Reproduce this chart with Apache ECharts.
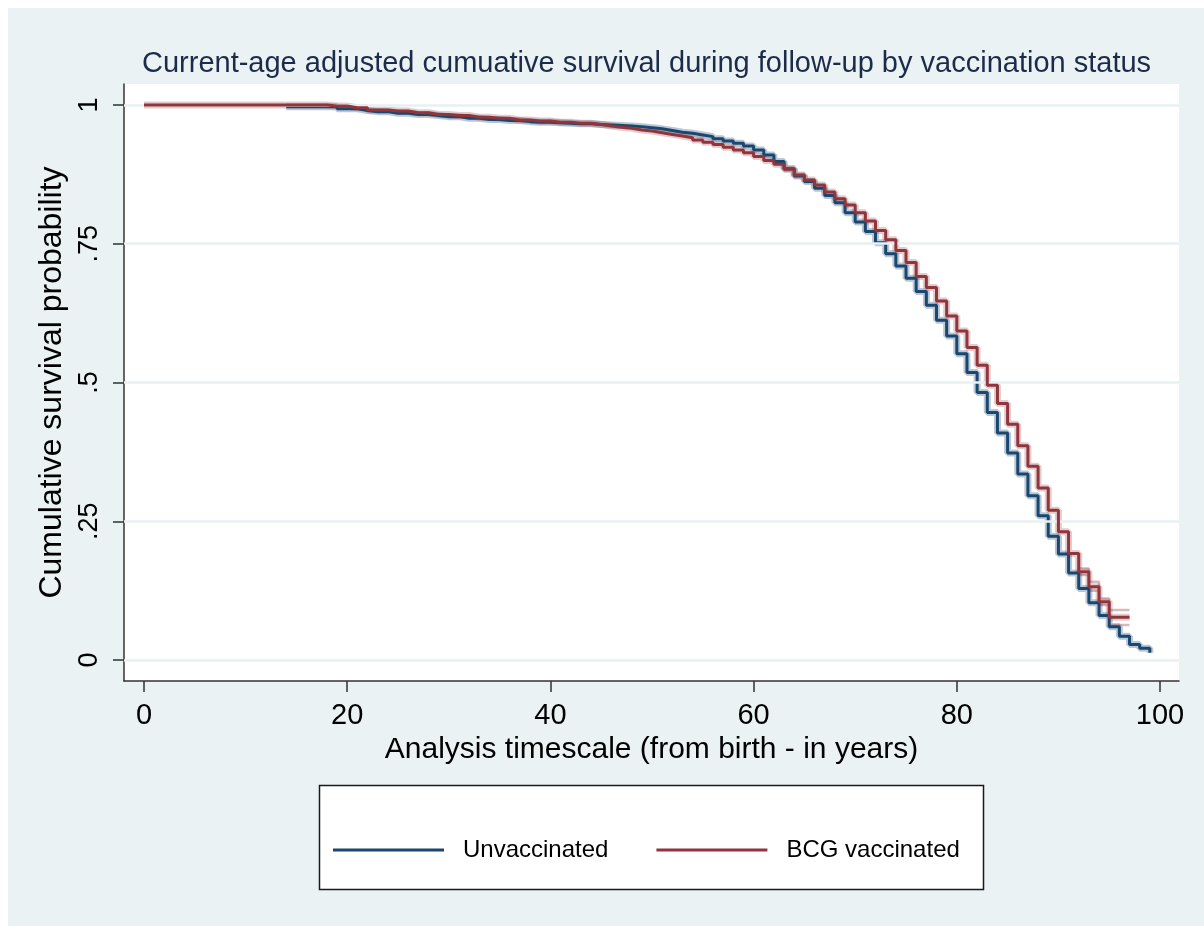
<!DOCTYPE html>
<html><head><meta charset="utf-8">
<script src="https://cdn.jsdelivr.net/npm/echarts@6/dist/echarts.min.js"></script>
<style>
html,body{margin:0;padding:0;background:#fff;}
#c{width:1204px;height:926px;background:linear-gradient(#fff,#fff) 0 0/100% 8px no-repeat, linear-gradient(#fff,#fff) 0 0/8px 100% no-repeat, #eaf2f3;}
</style></head><body><div id="c"></div>
<script>
// ---- data ----
const titleText = 'Current-age adjusted cumuative survival during follow-up by vaccination status';
const xTitle = 'Analysis timescale (from birth - in years)';
const yTitle = 'Cumulative survival probability';
const xTicks = [0, 20, 40, 60, 80, 100];
const yTicks = [0, 0.25, 0.5, 0.75, 1];
const yTickLabels = ['0', '.25', '.5', '.75', '1'];
const seriesNames = ['Unvaccinated', 'BCG vaccinated'];

// Unvaccinated: survival level held from each year (starting at 14) to the next
const unvacStartYear = 14;
const unvacSurv = [
  0.997, 0.997, 0.997, 0.997, 0.997, 0.993, 0.993, 0.990, 0.988, 0.988, // 14-23
  0.985, 0.985, 0.983, 0.983, 0.981, 0.979, 0.979, 0.976, 0.976, 0.974, // 24-33
  0.974, 0.972, 0.972, 0.970, 0.969, 0.969, 0.968, 0.967, 0.966, 0.966, // 34-43
  0.965, 0.964, 0.963, 0.962, 0.961, 0.959, 0.957, 0.954, 0.951, 0.949, // 44-53
  0.946, 0.943, 0.939, 0.935, 0.931, 0.926, 0.919, 0.910, 0.898, 0.885, // 54-63
  0.872, 0.862, 0.850, 0.837, 0.824, 0.806, 0.789, 0.772, 0.752, 0.732, // 64-73
  0.710, 0.688, 0.664, 0.639, 0.612, 0.584, 0.552, 0.518, 0.482, 0.446, // 74-83
  0.409, 0.373, 0.335, 0.296, 0.260, 0.223, 0.191, 0.157, 0.129, 0.103, // 84-93
  0.080, 0.060, 0.043, 0.028, 0.021, 0.013                              // 94-99
];

// BCG vaccinated: from year 0
const bcgStartYear = 0;
const bcgSurv = [
  1, 1, 1, 1, 1, 1, 1, 1, 1, 1,                                         // 0-9
  1, 1, 1, 1, 1, 1, 1, 1, 0.998, 0.998,                                 // 10-19
  0.995, 0.995, 0.991, 0.991, 0.989, 0.989, 0.986, 0.986, 0.983, 0.983, // 20-29
  0.981, 0.981, 0.978, 0.978, 0.976, 0.976, 0.973, 0.973, 0.971, 0.971, // 30-39
  0.969, 0.969, 0.967, 0.967, 0.965, 0.962, 0.960, 0.958, 0.955, 0.953, // 40-49
  0.950, 0.947, 0.944, 0.941, 0.937, 0.933, 0.929, 0.924, 0.919, 0.914, // 50-59
  0.907, 0.900, 0.893, 0.884, 0.874, 0.865, 0.856, 0.843, 0.831, 0.820, // 60-69
  0.806, 0.791, 0.774, 0.757, 0.738, 0.716, 0.691, 0.671, 0.647, 0.620, // 70-79
  0.593, 0.563, 0.531, 0.495, 0.462, 0.425, 0.386, 0.349, 0.310, 0.270, // 80-89
  0.231, 0.192, 0.159, 0.132, 0.105, 0.077, 0.077, 0.077                // 90-97
];

// visible confidence limits of the BCG curve at the tail
const bcgTailYears = [92, 93, 94, 95, 96, 97];
const bcgTailUpper = [0.165, 0.141, 0.111, 0.090, 0.090, 0.090];
const bcgTailLower = [0.153, 0.125, 0.099, 0.063, 0.063, 0.063];

const colors = { unvac: '#1a476f', bcg: '#90353b' };

// ---- build ----
const toPairs = (start, arr) => arr.map((v, i) => [start + i, v]);
const unvacData = toPairs(unvacStartYear, unvacSurv);
const bcgData = toPairs(bcgStartYear, bcgSurv);
const tailUp = bcgTailYears.map((y, i) => [y, bcgTailUpper[i]]);
const tailLo = bcgTailYears.map((y, i) => [y, bcgTailLower[i]]);

const FONT = 'Liberation Sans, Arial, sans-serif';
const chart = echarts.init(document.getElementById('c'), null, { renderer: 'canvas' });

const lineBase = { type: 'line', step: 'end', showSymbol: false, symbol: 'none', silent: true, animation: false };

chart.setOption({
  animation: false,
  textStyle: { fontFamily: FONT },
  title: {
    text: titleText, left: 137, top: 44,
    textStyle: { fontSize: 29, fontWeight: 'normal', color: '#1c2b4a', fontFamily: FONT }
  },
  grid: {
    left: 124, right: 25, top: 84, bottom: 245,
    show: true, backgroundColor: '#ffffff', borderWidth: 0
  },
  legend: {
    data: seriesNames,
    left: 333, top: 838, padding: 0,
    icon: 'rect', itemWidth: 111, itemHeight: 3, itemGap: 48,
    textStyle: { fontSize: 24, color: '#000', fontFamily: FONT, padding: [0, 0, 0, 14] },
    selectedMode: false
  },
  graphic: [{
    type: 'rect', z: 0, silent: true,
    shape: { x: 319.5, y: 785.5, width: 664, height: 104 },
    style: { fill: '#ffffff', stroke: '#1a1a1a', lineWidth: 1.5 }
  }],
  xAxis: {
    type: 'value', min: -1.97, max: 101.87,
    name: xTitle, nameLocation: 'middle', nameGap: 54,
    nameTextStyle: { fontSize: 30, color: '#000', fontFamily: FONT },
    axisLine: { show: true, onZero: false, lineStyle: { color: '#333', width: 1.5 } },
    axisTick: { show: true, length: 11, customValues: xTicks, lineStyle: { color: '#333', width: 1.5 } },
    axisLabel: { customValues: xTicks, fontSize: 29, color: '#000', margin: 20, fontFamily: FONT },
    splitLine: { show: false }
  },
  yAxis: {
    type: 'value', min: -0.0378, max: 1.0378,
    name: yTitle, nameLocation: 'middle', nameGap: 44,
    nameTextStyle: { fontSize: 32, color: '#000', fontFamily: FONT },
    axisLine: { show: true, onZero: false, lineStyle: { color: '#333', width: 1.5 } },
    axisTick: { show: true, length: 11, customValues: yTicks, lineStyle: { color: '#333', width: 1.5 } },
    axisLabel: {
      customValues: yTicks, rotate: 90, fontSize: 27, color: '#000', margin: 21, fontFamily: FONT,
      formatter: v => { const i = yTicks.findIndex(t => Math.abs(t - v) < 1e-9); return i >= 0 ? yTickLabels[i] : ''; }
    },
    splitLine: { show: false }
  },
  series: [
    {
      name: 'gridlines', type: 'line', data: [], z: 1, silent: true,
      markLine: {
        silent: true, symbol: 'none', label: { show: false }, animation: false,
        lineStyle: { color: '#e8f0f2', width: 2.5, type: 'solid' },
        data: yTicks.map(t => ({ yAxis: t }))
      }
    },
    Object.assign({}, lineBase, { name: 'unvacCI', data: unvacData, z: 2,
      lineStyle: { color: colors.unvac, width: 7, opacity: 0.3 } }),
    Object.assign({}, lineBase, { name: 'bcgCI', data: bcgData, z: 2,
      lineStyle: { color: colors.bcg, width: 7, opacity: 0.25 } }),
    Object.assign({}, lineBase, { name: 'bcgTailUp', data: tailUp, z: 3,
      lineStyle: { color: colors.bcg, width: 2.5, opacity: 0.35 } }),
    Object.assign({}, lineBase, { name: 'bcgTailLo', data: tailLo, z: 3,
      lineStyle: { color: colors.bcg, width: 2.5, opacity: 0.35 } }),
    Object.assign({}, lineBase, { name: seriesNames[0], data: unvacData, z: 4, color: colors.unvac,
      itemStyle: { color: colors.unvac },
      lineStyle: { color: colors.unvac, width: 3 } }),
    Object.assign({}, lineBase, { name: seriesNames[1], data: bcgData, z: 5, color: colors.bcg,
      itemStyle: { color: colors.bcg },
      lineStyle: { color: colors.bcg, width: 3 } })
  ]
});
</script>
</body></html>
